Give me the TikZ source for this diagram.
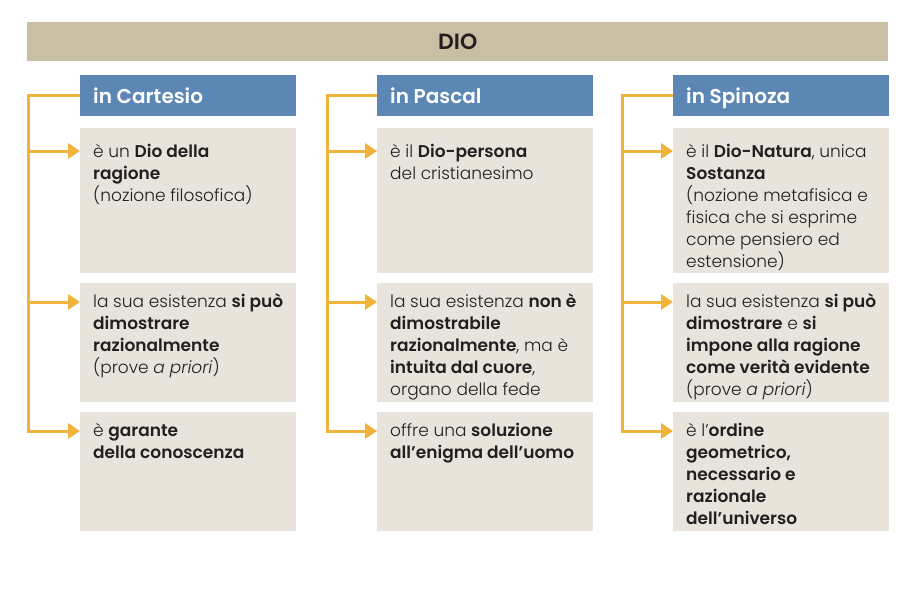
\documentclass[tikz,border=0pt]{standalone}
\usepackage{fontspec}
\setmainfont{Poppins}[UprightFont={Poppins Light},BoldFont={Poppins SemiBold},ItalicFont={Poppins Light Italic}]
\usetikzlibrary{arrows.meta,calc}
\definecolor{bartan}{HTML}{C8BFA4}
\definecolor{hblue}{HTML}{5C87B4}
\definecolor{boxc}{HTML}{E8E4DB}
\definecolor{arrowc}{HTML}{F0B43C}
\definecolor{darktext}{HTML}{231F20}
\tikzset{
  hdr/.style={fill=hblue, minimum width=216pt, minimum height=41pt, anchor=north west, inner sep=0pt, outer sep=0pt},
  cbox/.style={fill=boxc, minimum width=216pt, anchor=north west, inner sep=0pt, outer sep=0pt},
  htxt/.style={anchor=base west, inner sep=0pt, text=white, font=\fontsize{20}{24}\selectfont\bfseries},
  txt/.style={anchor=north west, align=left, inner sep=0pt, text=darktext, font=\fontsize{17}{22}\selectfont},
  conn/.style={draw=arrowc, line width=3pt},
  arr/.style={conn, -{Triangle[length=12pt,width=15pt]}}
}
\begin{document}
\begin{tikzpicture}[x=1pt,y=-1pt]
\useasboundingbox[fill=white] (0,0) rectangle (897,597);
% top bar
\node[fill=bartan, minimum width=861pt, minimum height=39pt, anchor=north west, inner sep=0pt] (dio) at (27,22) {};
\node[text=darktext, font=\fontsize{22}{24}\selectfont\bfseries, inner sep=0pt] (diot) at (dio.center) {DIO};
% headers
\node[hdr] (h1) at (80,75) {};
\node[hdr] (h2) at (377,75) {};
\node[hdr] (h3) at (673,75) {};
\node[htxt] (h1t) at (93,103) {in Cartesio};
\node[htxt] (h2t) at (390,103) {in Pascal};
\node[htxt] (h3t) at (686,103) {in Spinoza};
% boxes
\foreach \c/\x in {1/80,2/377,3/673}{
  \node[cbox, minimum height=145pt] (b\c1) at (\x,128) {};
  \node[cbox, minimum height=119pt] (b\c2) at (\x,283) {};
  \node[cbox, minimum height=119pt] (b\c3) at (\x,412) {};
}
% texts
\node[txt] (t11) at ($(b11.north west)+(13,16)$) {è un \textbf{Dio della}\\\textbf{ragione}\\(nozione filosofica)};
\node[txt] (t12) at ($(b12.north west)+(13,10)$) {la sua esistenza \textbf{si può}\\\textbf{dimostrare}\\\textbf{razionalmente}\\(prove \textit{a priori})};
\node[txt] (t13) at ($(b13.north west)+(13,11)$) {è \textbf{garante}\\\textbf{della conoscenza}};
\node[txt] (t21) at ($(b21.north west)+(13,16)$) {è il \textbf{Dio-persona}\\del cristianesimo};
\node[txt] (t22) at ($(b22.north west)+(13,10)$) {la sua esistenza \textbf{non è}\\\textbf{dimostrabile}\\\textbf{razionalmente}, ma è\\\textbf{intuita dal cuore},\\organo della fede};
\node[txt] (t23) at ($(b23.north west)+(13,11)$) {offre una \textbf{soluzione}\\\textbf{all’enigma dell’uomo}};
\node[txt] (t31) at ($(b31.north west)+(13,16)$) {è il \textbf{Dio-Natura}, unica\\\textbf{Sostanza}\\(nozione metafisica e\\fisica che si esprime\\come pensiero ed\\estensione)};
\node[txt] (t32) at ($(b32.north west)+(13,10)$) {la sua esistenza \textbf{si può}\\\textbf{dimostrare} e \textbf{si}\\\textbf{impone alla ragione}\\\textbf{come verità evidente}\\(prove \textit{a priori})};
\node[txt] (t33) at ($(b33.north west)+(13,11)$) {è l’\textbf{ordine}\\\textbf{geometrico,}\\\textbf{necessario e}\\\textbf{razionale}\\\textbf{dell’universo}};
% connectors
\coordinate (v1top) at (28,95.5);
\coordinate (v2top) at (327,95.5);
\coordinate (v3top) at (622,95.5);
\foreach \c in {1,2,3}{
  \coordinate (a\c1) at ($(b\c1.north west)+(0,23)$);
  \coordinate (a\c2) at ($(b\c2.north west)+(0,19)$);
  \coordinate (a\c3) at ($(b\c3.north west)+(0,19)$);
  \draw[arr] (h\c.west) -- (v\c top) |- (a\c3);
  \draw[arr] (v\c top |- a\c1) -- (a\c1);
  \draw[arr] (v\c top |- a\c2) -- (a\c2);
}
\end{tikzpicture}
\end{document}
